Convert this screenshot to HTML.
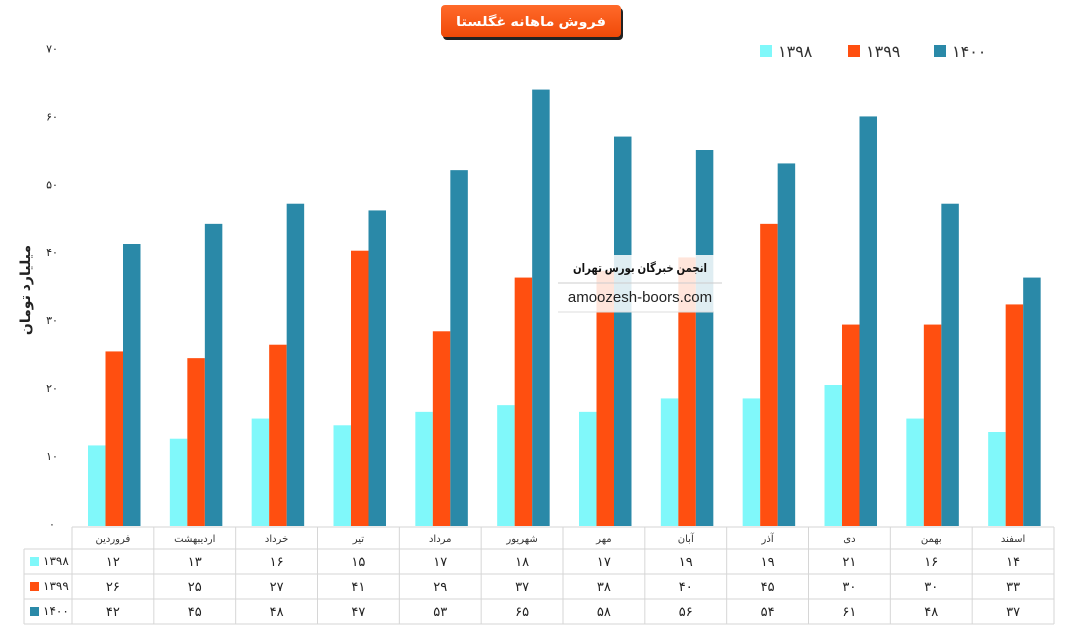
<!DOCTYPE html>
<html><head><meta charset="utf-8">
<style>
body{margin:0;background:#fff;width:1068px;height:639px;overflow:hidden;font-family:"Liberation Sans","DejaVu Sans",sans-serif;}
svg text{font-family:"Liberation Sans","DejaVu Sans",sans-serif;}
</style></head>
<body>
<svg id="chart" width="1068" height="639" xmlns="http://www.w3.org/2000/svg">
<defs><linearGradient id="tg" x1="0" y1="0" x2="0" y2="1"><stop offset="0" stop-color="#ff6a2a"/><stop offset="1" stop-color="#f04a08"/></linearGradient></defs>
<g>
<rect x="443" y="8" width="180" height="32" rx="4" fill="#222"/>
<rect x="441" y="5" width="180" height="32" rx="4" fill="url(#tg)"/>
<text x="531" y="26" text-anchor="middle" font-size="13" font-weight="bold" fill="#fff" textLength="150" lengthAdjust="spacingAndGlyphs">فروش ماهانه غگلستا</text>
</g>
<g id="legend"></g>
<g id="yaxis"></g>
<text x="30" y="290" transform="rotate(-90 30 290)" text-anchor="middle" font-size="14" font-weight="bold" fill="#222">میلیارد تومان</text>
<g id="bars"></g>
<g id="table"></g>
<g>
<rect x="558" y="255" width="164" height="57" fill="#fff" fill-opacity="0.85"/>
<line x1="558" y1="283" x2="722" y2="283" stroke="#ccc"/>
<line x1="558" y1="312" x2="714" y2="312" stroke="#ddd"/>
<text x="640" y="272" text-anchor="middle" font-size="12" font-weight="bold" fill="#111" textLength="134" lengthAdjust="spacingAndGlyphs">انجمن خبرگان بورس تهران</text>
<text x="640" y="302" text-anchor="middle" font-size="15" fill="#222">amoozesh-boors.com</text>
</g>
</svg>
<script>
const categories=["فروردین","اردیبهشت","خرداد","تیر","مرداد","شهریور","مهر","آبان","آذر","دی","بهمن","اسفند"];
const seriesNames=["۱۳۹۸","۱۳۹۹","۱۴۰۰"];
const s1398=[12,13,16,15,17,18,17,19,19,21,16,14];
const s1399=[26,25,27,41,29,37,38,40,45,30,30,33];
const s1400=[42,45,48,47,53,65,58,56,54,61,48,37];
const yTicks=[0,10,20,30,40,50,60,70];
const colors=["#80f8fa","#ff4f10","#2a89a8"];
const NS="http://www.w3.org/2000/svg";
const x0=72,x1=1054,yb=526,yt=56,yMax=70;
const bw=(x1-x0)/categories.length;
const y=v=>yb-(v/yMax)*(yb-yt);
const fa=n=>String(n).replace(/\d/g,d=>"۰۱۲۳۴۵۶۷۸۹"[d]);
function mk(tag,attrs,parent,txt){const e=document.createElementNS(NS,tag);for(const k in attrs)e.setAttribute(k,attrs[k]);if(txt!==undefined)e.textContent=txt;parent.appendChild(e);return e;}
const series=[s1398,s1399,s1400];
const yax=document.getElementById('yaxis');
yTicks.forEach(t=>{const e=mk('text',{x:52,y:y(t)+2-t*0.08,'text-anchor':'middle','font-size':11,fill:'#222'},yax,fa(t));

});
const bars=document.getElementById('bars');
categories.forEach((c,i)=>{series.forEach((s,j)=>{const bx=x0+i*bw+16+j*17.5;
const r=mk('rect',{x:bx,y:y(s[i]),width:17.5,height:yb-y(s[i]),fill:colors[j]},bars);

});});
const lg=document.getElementById('legend');
[760,848,934].forEach((lx,j)=>{mk('rect',{x:lx,y:45,width:12,height:12,fill:colors[j]},lg);
const t=mk('text',{x:lx+18,y:57,'font-size':16,fill:'#333'},lg,seriesNames[j]);

});
const tb=document.getElementById('table');
const rows=[527,549,574,599,624];
const ln=(a,b,c,d)=>mk('line',{x1:a,y1:b,x2:c,y2:d,stroke:'#d6d6d6'},tb);
ln(x0,527,x1,527);rows.slice(1).forEach(r=>ln(24,r,x1,r));
ln(24,549,24,624);
for(let i=0;i<=categories.length;i++)ln(x0+i*bw,527,x0+i*bw,624);
categories.forEach((c,i)=>{const cx=x0+(i+0.5)*bw;
const t=mk('text',{x:cx,y:542,'text-anchor':'middle','font-size':10,fill:'#333'},tb,c);


series.forEach((s,j)=>{const v=mk('text',{x:cx,y:rows[j+1]+17,'text-anchor':'middle','font-size':13,fill:'#222'},tb,fa(s[i]));

});});
seriesNames.forEach((n,j)=>{mk('rect',{x:30,y:rows[j+1]+8,width:9,height:9,fill:colors[j]},tb);
mk('text',{x:43,y:rows[j+1]+16,'font-size':12,fill:'#222'},tb,n);});
</script>
</body></html>
